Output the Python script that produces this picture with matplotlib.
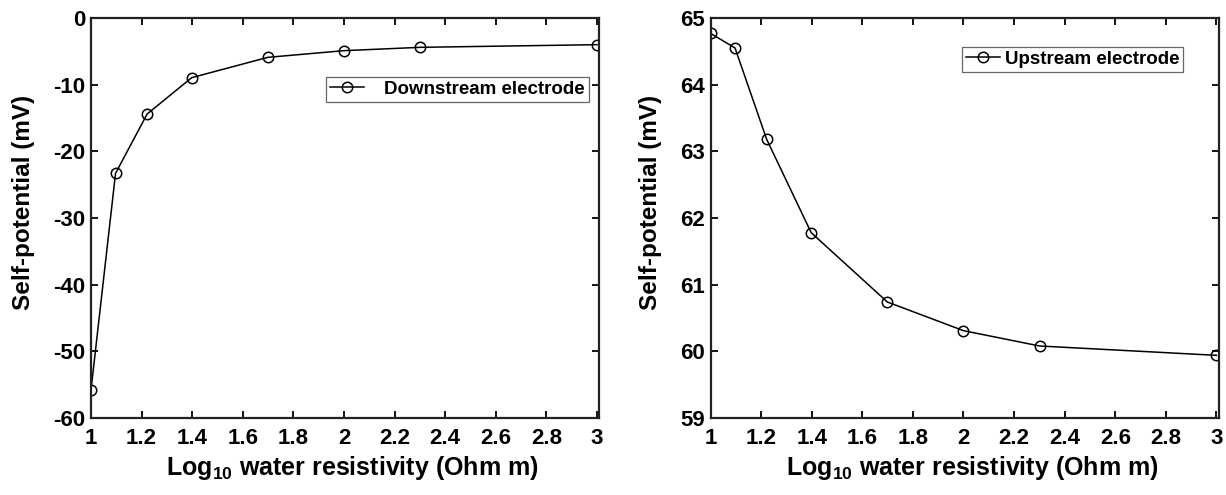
import numpy as np
import matplotlib.pyplot as plt

# log10 of water resistivity (10, 12.5, 16.7, 25, 50, 100, 200, 1000 Ohm m)
log_rho = [1.0, 1.097, 1.222, 1.398, 1.699, 2.0, 2.301, 3.0]
sp_down = [-55.8, -23.3, -14.4, -8.95, -5.9, -4.9, -4.4, -4.0]
sp_up = [64.77, 64.55, 63.18, 61.78, 60.74, 60.31, 60.08, 59.94]

x_ticks = [1, 1.2, 1.4, 1.6, 1.8, 2, 2.2, 2.4, 2.6, 2.8, 3]
x_ticklabels = ['1', '1.2', '1.4', '1.6', '1.8', '2', '2.2', '2.4', '2.6', '2.8', '3']

plt.rcParams['font.family'] = ['Liberation Sans', 'DejaVu Sans']
plt.rcParams['font.weight'] = 'bold'
plt.rcParams['axes.unicode_minus'] = False
plt.rcParams['mathtext.fontset'] = 'custom'
plt.rcParams['mathtext.rm'] = 'Liberation Sans:bold'
plt.rcParams['mathtext.default'] = 'rm'

W, H = 1226, 495
fig = plt.figure(figsize=(W / 100, H / 100), dpi=100)
ax1 = fig.add_axes([91 / W, 1 - 418 / H, 508 / W, 400 / H])
ax2 = fig.add_axes([710.5 / W, 1 - 418 / H, 508 / W, 400 / H])


def style(ax, ylab_x):
    ax.set_xlim(1, 3.008)
    ax.set_xticks(x_ticks)
    ax.set_xticklabels(x_ticklabels)
    ax.tick_params(direction='in', top=True, right=True, length=5, width=1.3,
                   labelsize=16)
    ax.tick_params(axis='x', pad=7)
    ax.tick_params(axis='y', pad=4)
    for s in ax.spines.values():
        s.set_linewidth(1.6)
        s.set_color('#222222')
    ax.set_xlabel('Log$_{10}$ water resistivity (Ohm m)', fontsize=18,
                  fontweight='bold')
    ax.set_ylabel('Self-potential (mV)', fontsize=17.5, fontweight='bold')
    ax.xaxis.set_label_coords(0.515, -0.09)
    ax.yaxis.set_label_coords(ylab_x, 0.54)


def add_legend(ax, x0, y0, pad):
    leg = ax.legend(loc='upper left', bbox_to_anchor=(x0 / W, 1 - y0 / H),
                    bbox_transform=fig.transFigure, fontsize=13.5,
                    fancybox=False, edgecolor='#666666', framealpha=1,
                    handlelength=1.8, handletextpad=pad, borderpad=0.22,
                    borderaxespad=0)
    leg.get_frame().set_linewidth(0.9)


ax1.plot(log_rho, sp_down, '-o', color='black', lw=1.1, ms=7.5,
         mfc='none', mec='black', mew=1.1, label='Downstream electrode')
style(ax1, -0.11)
ax1.set_ylim(-60, 0)
ax1.set_yticks(np.arange(-60, 1, 10))
add_legend(ax1, 326, 76.5, 1.1)

ax2.plot(log_rho, sp_up, '-o', color='black', lw=1.1, ms=7.5,
         mfc='none', mec='black', mew=1.1, label='Upstream electrode')
style(ax2, -0.095)
ax2.set_ylim(59, 65)
ax2.set_yticks(np.arange(59, 66, 1))
add_legend(ax2, 962, 46.5, 0.25)

fig.savefig('out.png', dpi=100)
